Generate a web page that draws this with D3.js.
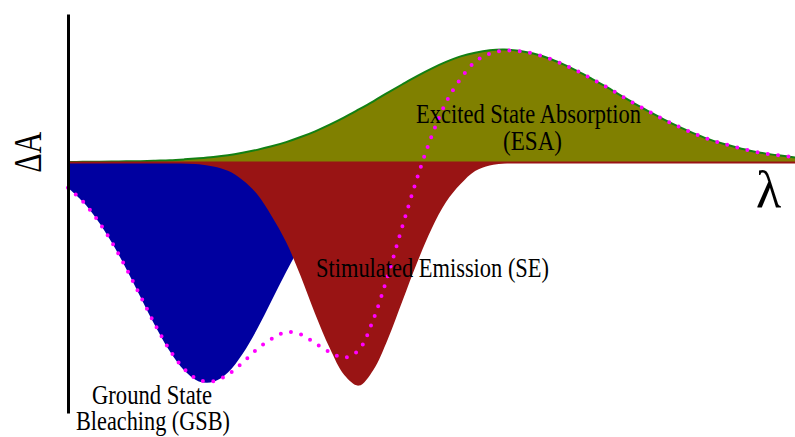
<!DOCTYPE html>
<html>
<head>
<meta charset="utf-8">
<script src="https://cdn.jsdelivr.net/npm/d3@7"></script>
<style>
  html, body { margin: 0; padding: 0; background: #ffffff; }
  svg { display: block; }
  text { font-family: "Liberation Serif", "Times New Roman", serif; fill: #000; }
</style>
</head>
<body>
<svg id="chart" width="795" height="437"></svg>
<script>
// Wavelength sampling grid (nm)
const wavelengths = [
  400, 408, 416, 424, 432, 440, 448, 456, 464, 472,
  480, 488, 496, 504, 512, 520, 528, 536, 544, 552,
  560, 568, 576, 584, 592, 600, 608, 616, 624, 632,
  640, 648, 656, 664, 672, 680, 688, 696, 704, 712,
  720, 728, 736, 744, 752, 760, 768, 776, 784, 792, 800
];

// Ground state bleaching contribution (negative ΔA, normalised)
const gsb = [
  -0.116, -0.178, -0.261, -0.363, -0.483, -0.613, -0.742, -0.857, -0.944, -0.993,
  -0.995, -0.953, -0.869, -0.757, -0.628, -0.498, -0.377, -0.271, -0.187, -0.123,
  -0.077, -0.046, -0.026, -0.014, -0.007, -0.004, -0.002, -0.001, 0, 0,
  0, 0, 0, 0, 0, 0, 0, 0, 0, 0,
  0, 0, 0, 0, 0, 0, 0, 0, 0, 0, 0
];

// Stimulated emission contribution (negative ΔA)
const se = [
  0, 0, 0, 0, 0, 0, -0.001, -0.002, -0.005, -0.010,
  -0.020, -0.040, -0.081, -0.145, -0.244, -0.362, -0.516, -0.688, -0.842, -0.964,
  -1.012, -0.941, -0.801, -0.629, -0.457, -0.303, -0.181, -0.100, -0.041, -0.016,
  -0.005, -0.002, 0, 0, 0, 0, 0, 0, 0, 0,
  0, 0, 0, 0, 0, 0, 0, 0, 0, 0, 0
];

// Excited state absorption contribution (positive ΔA)
const esa = [
  0.000, 0.001, 0.001, 0.002, 0.003, 0.004, 0.006, 0.008, 0.012, 0.017,
  0.023, 0.031, 0.042, 0.055, 0.071, 0.090, 0.113, 0.139, 0.169, 0.202,
  0.238, 0.275, 0.314, 0.352, 0.389, 0.423, 0.453, 0.478, 0.495, 0.506,
  0.509, 0.504, 0.491, 0.471, 0.444, 0.413, 0.378, 0.341, 0.302, 0.263,
  0.227, 0.192, 0.160, 0.131, 0.105, 0.084, 0.066, 0.050, 0.038, 0.029, 0.021
];

const bandLabels = [
  { lines: ["Excited State Absorption", "(ESA)"] },
  { lines: ["Stimulated Emission (SE)"] },
  { lines: ["Ground State", "Bleaching (GSB)"] }
];
const yAxisTitle = "ΔA";
const xAxisTitle = "λ";

const svg = d3.select("#chart");

const x = d3.scaleLinear().domain([400, 800]).range([68, 795]);
const y = d3.scaleLinear().domain([-1.136, 0.67]).range([413, 14]);

const rows = wavelengths.map((w, i) => ({
  w, gsb: gsb[i], se: se[i], esa: esa[i], total: gsb[i] + se[i] + esa[i]
}));

const curve = d3.curveCatmullRom.alpha(0.5);
const area = key => d3.area()
  .x(d => x(d.w)).y0(y(0)).y1(d => y(d[key])).curve(curve);
const line = key => d3.line()
  .x(d => x(d.w)).y(d => y(d[key])).curve(curve);

// Bleach band
svg.append("path").datum(rows)
  .attr("d", area("gsb")).attr("fill", "#0000a0");

// Absorption band with its outline
svg.append("path").datum(rows)
  .attr("d", area("esa")).attr("fill", "#808000");
svg.append("path").datum(rows)
  .attr("d", line("esa")).attr("fill", "none")
  .attr("stroke", "#138013").attr("stroke-width", 2);

// Emission band, layered over the bleach
svg.append("path").datum(rows)
  .attr("d", area("se")).attr("fill", "#991414");

// Zero line along the wavelength axis
const xAxis = svg.append("g")
  .attr("transform", `translate(0,${y(0)})`)
  .call(d3.axisBottom(x).tickValues([]).tickSizeOuter(0));
xAxis.select(".domain").attr("stroke", "#991414").attr("stroke-width", 2);

// Net transient signal
svg.append("path").datum(rows)
  .attr("d", line("total")).attr("fill", "none")
  .attr("stroke", "#ff00ff").attr("stroke-width", 4)
  .attr("stroke-linecap", "round")
  .attr("stroke-dasharray", "0,10.4");

// Vertical ΔA axis
const yAxis = svg.append("g")
  .attr("transform", `translate(${x(400)},0)`)
  .call(d3.axisLeft(y).tickValues([]).tickSizeOuter(0));
yAxis.select(".domain").attr("stroke", "#000").attr("stroke-width", 3);

// Band labels
const labelPos = [
  [{ x: 416, y: 123, len: 225 }, { x: 503, y: 150, len: 59 }],
  [{ x: 316, y: 277, len: 233 }],
  [{ x: 92, y: 404, len: 120 }, { x: 76, y: 430, len: 154 }]
];
bandLabels.forEach((b, i) => {
  b.lines.forEach((t, j) => {
    const p = labelPos[i][j];
    svg.append("text")
      .attr("x", p.x).attr("y", p.y)
      .attr("font-size", 27)
      .attr("textLength", p.len)
      .attr("lengthAdjust", "spacingAndGlyphs")
      .text(t);
  });
});

// Axis titles
svg.append("text")
  .attr("transform", "translate(40.5,152.2) rotate(-90)")
  .attr("text-anchor", "middle")
  .attr("font-size", 40)
  .attr("textLength", 41)
  .attr("lengthAdjust", "spacingAndGlyphs")
  .text(yAxisTitle);

svg.append("text")
  .attr("x", 768.5).attr("y", 207)
  .attr("text-anchor", "middle")
  .attr("font-size", 52)
  .text(xAxisTitle);
</script>
</body>
</html>
